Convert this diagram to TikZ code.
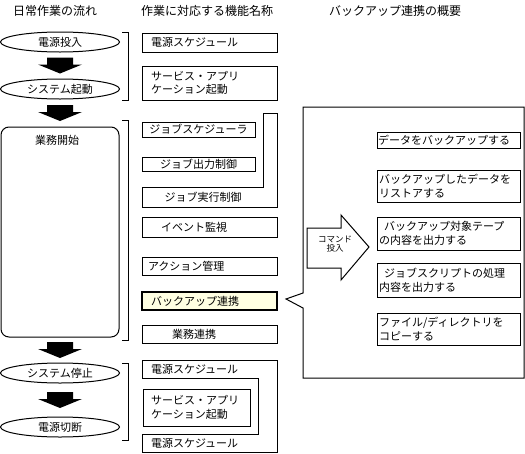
\documentclass[tikz,border=0pt]{standalone}
\usepackage{fontspec}
\setmainfont{Noto Sans CJK JP}
\usetikzlibrary{shapes.geometric,calc}
\definecolor{hlyellow}{RGB}{255,255,226}
\tikzset{
  ell/.style={draw, ellipse, minimum width=119pt, minimum height=20pt},
  mbox/.style={draw, anchor=north west, align=left, inner ysep=0pt},
  cbox/.style={draw, anchor=north west, align=center, inner ysep=0pt},
  hl/.style={mbox, fill=hlyellow, line width=2pt},
  hdr/.style={font=\fontsize{12}{14}\selectfont},
  small/.style={font=\fontsize{8.5}{9.5}\selectfont, align=center},
  downblk/.pic={\fill (-13,-8) -- (13,-8) -- (13,-1) -- (22,-1) -- (0,8) -- (-22,-1) -- (-13,-1) -- cycle;}
}
\begin{document}
\begin{tikzpicture}[x=1pt, y=-1pt, line width=1pt,
  font=\fontsize{11}{13.5}\selectfont,
  every node/.style={inner sep=0pt, outer sep=0pt}]
\useasboundingbox (0,0) rectangle (525,453);

% headers
\node[hdr] (h1) at (55,11) {日常作業の流れ};
\node[hdr] (h2) at (207,11) {作業に対応する機能名称};
\node[hdr] (h3) at (395,11) {バックアップ連携の概要};

% left column
\node[ell] (e1) at (60,42) {電源投入};
\node[ell] (e2) at (60,89) {システム起動};
\node[draw, rounded corners=8pt, anchor=north west, minimum width=118pt, minimum height=210pt] (work) at (1,127) {};
\node (worklabel) at (57,140) {業務開始};
\node[ell] (e3) at (60,373) {システム停止};
\node[ell] (e4) at (60,427) {電源切断};

\pic at ($(e1.south)!0.5!(e2.north)$) {downblk};
\pic at ($(e2.south)!0.5!(work.north)$) {downblk};
\pic at ($(work.south)!0.5!(e3.north)$) {downblk};
\pic at ($(e3.south)!0.5!(e4.north)$) {downblk};

% brackets
\draw (122,32) -- (128,32) -- (128,100) -- (122,100);
\draw (122,120) -- (128,120) -- (128,340) -- (122,340);
\draw (122,363) -- (128,363) -- (128,440) -- (122,440);

% middle column
\node[mbox, minimum height=19pt, inner xsep=9pt, text width=117pt] (m1) at (142,33) {電源スケジュール};
\node[mbox, minimum height=34pt, inner xsep=9pt, text width=117pt] (m2) at (142,66) {サービス・アプリ\\ケーション起動};
\draw (142,187) -- (263,187) -- (263,113) -- (277,113) -- (277,207) -- (142,207) -- cycle;
\node[cbox, minimum height=15pt, inner xsep=1pt, text width=111pt, fill=white] (m3) at (142,122) {ジョブスケジューラ};
\node[cbox, minimum height=14pt, inner xsep=1pt, text width=111pt] (m4) at (142,157) {ジョブ出力制御};
\node (m5) at (203,197) {ジョブ実行制御};
\node[mbox, minimum height=20pt, inner xsep=19pt, text width=97pt] (m6) at (142,217) {イベント監視};
\node[mbox, minimum height=18pt, inner xsep=6pt, text width=123pt] (m7) at (142,257) {アクション管理};
\node[hl, minimum height=18pt, inner xsep=9pt, text width=117pt] (m8) at (142,292) {バックアップ連携};
\node[mbox, minimum height=18pt, inner xsep=30pt, text width=75pt] (m9) at (142,325) {業務連携};
\draw (142,360) -- (277,360) -- (277,452) -- (142,452) -- (142,434) -- (258,434) -- (258,378) -- (142,378) -- cycle;
\node[anchor=west] (m10) at (151,369) {電源スケジュール};
\node[mbox, minimum height=37pt, inner xsep=8pt, text width=91pt] (m11) at (143,389) {サービス・アプリ\\ケーション起動};
\node[anchor=west] (m12) at (151,443) {電源スケジュール};

% callout
\draw (303,107) -- (524,107) -- (524,378) -- (303,378) -- (303,308) -- (286,299) -- (303,293) -- cycle;
\draw (307,228) -- (341,228) -- (341,215) -- (369,247) -- (341,280) -- (341,268) -- (307,268) -- cycle;
\node[small] (cmd) at (335,244) {コマンド\\投入};

\node[mbox, minimum height=16pt, inner xsep=1pt, text width=141pt] (r1) at (377,132) {データをバックアップする};
\node[mbox, minimum height=32pt, inner xsep=2pt, text width=139pt] (r2) at (377,170) {バックアップしたデータを\\リストアする};
\node[mbox, minimum height=33pt, inner xsep=2pt, text width=139pt] (r3) at (377,217) {\hspace*{5pt}バックアップ対象テープ\\の内容を出力する};
\node[mbox, minimum height=34pt, inner xsep=2pt, text width=139pt] (r4) at (377,263) {\hspace*{5pt}ジョブスクリプトの処理\\内容を出力する};
\node[mbox, minimum height=32pt, inner xsep=2pt, text width=139pt] (r5) at (377,313) {ファイル/ディレクトリを\\コピーする};
\end{tikzpicture}
\end{document}
